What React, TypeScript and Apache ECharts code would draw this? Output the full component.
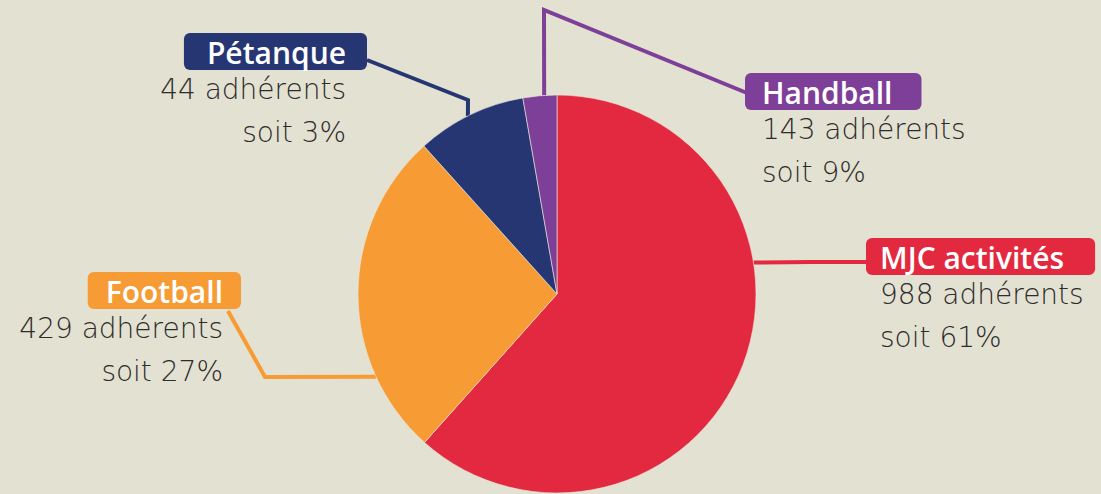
import React, { useEffect, useRef } from "react";
import * as echarts from "echarts";

const categories = ["MJC activités", "Football", "Pétanque", "Handball"];
const sliceValues = [988, 429, 143, 44];
const labelMembers = [988, 429, 44, 143];
const labelPercents = [61, 27, 3, 9];
const colors = ["#e3293f", "#f79b35", "#263673", "#7e3f98"];

const BG = "#e3e1d1";
const TEXT = "#2d2b2b";
const TITLE_FONT = "'Open Sans', Lato, sans-serif";
const BODY_FONT = "'DejaVu Sans', 'Open Sans', sans-serif";
const CENTER: [number, number] = [557, 294];
const RADIUS = 199;

function edge(angle: number): number[] {
  const r = (angle * Math.PI) / 180;
  return [CENTER[0] + RADIUS * Math.sin(r), CENTER[1] - RADIUS * Math.cos(r)];
}

type Lay = {
  x: number;
  y: number;
  align: "left" | "right";
  padL: number;
  padR: number;
  pts: number[][];
};
const layouts: Lay[] = [
  { x: 866, y: 242, align: "left", padL: 14, padR: 31, pts: [edge(80.9), [811, 262], [866, 262]] },
  { x: 241, y: 276, align: "right", padL: 18, padR: 18, pts: [edge(245.4), [265, 377], [228, 311]] },
  { x: 367, y: 37, align: "right", padL: 23, padR: 21, pts: [edge(333.4), [468, 100], [367, 60]] },
  { x: 745, y: 77, align: "left", padL: 17, padR: 29, pts: [edge(356.3), [544, 10], [747, 93]] },
];

export default function App() {
  const ref = useRef<HTMLDivElement>(null);
  useEffect(() => {
    if (!ref.current) return;
    const chart = echarts.init(ref.current, undefined, { renderer: "svg" });
    chart.setOption({
      animation: false,
      backgroundColor: BG,
      series: [
        {
          type: "pie",
          center: CENTER,
          radius: RADIUS,
          startAngle: 90,
          clockwise: true,
          avoidLabelOverlap: false,
          emphasis: { disabled: true },
          itemStyle: { borderColor: "#ece9dc", borderWidth: 0.6 },
          data: categories.map((name, i) => {
            const L = layouts[i];
            return {
              name,
              value: sliceValues[i],
              itemStyle: { color: colors[i] },
              labelLine: { lineStyle: { color: colors[i] } },
              label: {
                rich: {
                  t: {
                    color: "#ffffff",
                    fontFamily: TITLE_FONT,
                    fontWeight: 600,
                    fontSize: 30,
                    lineHeight: 29,
                    backgroundColor: colors[i],
                    borderRadius: 6,
                    padding: [4, L.padR, 3, L.padL],
                  },
                  b1: {
                    color: TEXT,
                    fontFamily: BODY_FONT,
                    fontWeight: 200,
                    fontSize: 28,
                    lineHeight: 47,
                    padding: [0, L.padR, 0, L.padL],
                  },
                  b: {
                    color: TEXT,
                    fontFamily: BODY_FONT,
                    fontWeight: 200,
                    fontSize: 28,
                    lineHeight: 38,
                    padding: [0, L.padR, 0, L.padL],
                  },
                },
              },
            };
          }),
          label: {
            show: true,
            position: "outside",
            formatter: (p: any) => {
              const i = p.dataIndex;
              return `{t|${categories[i]}}\n{b1|${labelMembers[i]} adhérents}\n{b|soit ${labelPercents[i]}%}`;
            },
          },
          labelLine: {
            show: true,
            length: 10,
            length2: 10,
            lineStyle: { width: 4, join: "miter" },
          },
          labelLayout: (p: any) => {
            const L = layouts[p.dataIndex];
            return {
              x: L.x,
              y: L.y,
              align: L.align,
              verticalAlign: "top",
              labelLinePoints: L.pts,
            };
          },
        },
      ],
    });
    return () => chart.dispose();
  }, []);
  return (
    <div
      ref={ref}
      style={{ position: "fixed", left: 0, top: 0, width: 1101, height: 494 }}
    />
  );
}
